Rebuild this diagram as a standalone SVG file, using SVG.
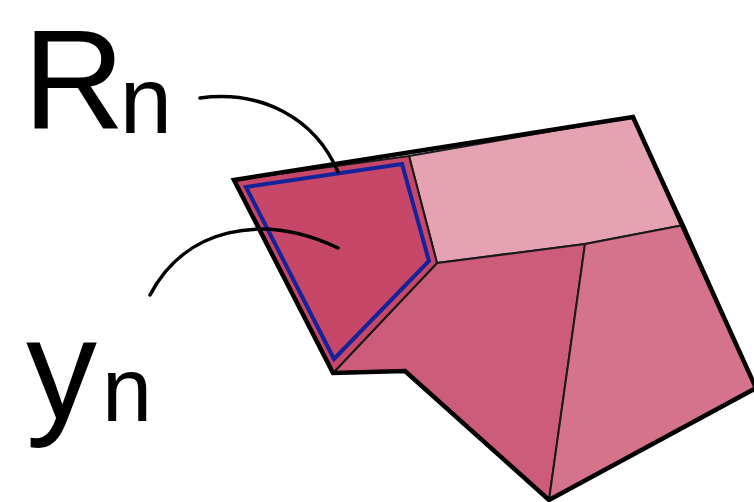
<svg xmlns="http://www.w3.org/2000/svg" width="754" height="502" viewBox="0 0 754 502">
<style>
.cell{stroke:#1a1a1a;stroke-width:2;stroke-linejoin:round}
.outline{fill:none;stroke:#000;stroke-width:4.5;stroke-linejoin:miter}
.lead{fill:none;stroke:#000;stroke-width:3.5;stroke-linecap:round}
.lbl{font-family:"Liberation Sans",Arial,sans-serif;fill:#000}
</style>
<rect width="754" height="502" fill="#fff"/>
<g id="cells">
<polygon id="cell-top" class="cell" fill="#e4a2b3" points="409,156 633,117 684,225 585,244 437,263"/>
<polygon id="cell-mid" class="cell" fill="#cd5c7a" points="437,263 585,244 549,500 405,371 333,373"/>
<polygon id="cell-right" class="cell" fill="#d5738c" points="585,244 684,225 756,388 549,500"/>
<polygon id="cell-Rn" class="cell" fill="#c74768" points="234,180 409,156 437,263 333,373"/>
<polygon id="yn-region" fill="none" stroke="#14239a" stroke-width="4" stroke-linejoin="miter" points="246,187 402,164 429,261 334,359"/>
</g>
<polygon id="outline" class="outline" points="234,180 633,117 756,388 549,500 405,371 333,373"/>
<g id="connectors">
<path class="lead" d="M200,98 C262,90 315,118 338,172"/>
<path class="lead" d="M150,295 C185,228 262,212 338,248"/>
</g>
<g id="label-Rn">
<text class="lbl" x="23" y="128" font-size="141">R<tspan font-size="94" dx="-5" dy="5">n</tspan></text>
</g>
<g id="label-yn">
<text class="lbl" x="26" y="418" font-size="142">y<tspan font-size="90" dx="5" dy="3">n</tspan></text>
</g>
</svg>
